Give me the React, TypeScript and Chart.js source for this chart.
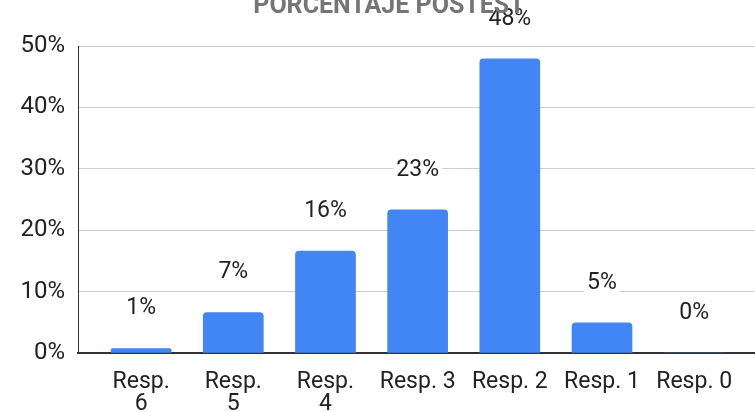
import React, { useEffect, useRef } from "react";
import { Chart, registerables } from "chart.js";

Chart.register(...registerables);

const categories: (string | string[])[] = [
  ["Resp.", "6"],
  ["Resp.", "5"],
  ["Resp.", "4"],
  "Resp. 3",
  "Resp. 2",
  "Resp. 1",
  "Resp. 0",
];
const values = [0.7, 6.6, 16.6, 23.3, 47.9, 4.9, 0];
const valueLabels = ["1%", "7%", "16%", "23%", "48%", "5%", "0%"];
const yTicks = [0, 10, 20, 30, 40, 50];
const chartTitle = "PORCENTAJE POSTEST";

const FONT = "Roboto";

const labelPlugin = {
  id: "valueLabels",
  afterDatasetsDraw(chart: any) {
    const ctx = chart.ctx;
    const meta = chart.getDatasetMeta(0);
    ctx.save();
    ctx.font = `23px ${FONT}`;
    ctx.textAlign = "center";
    ctx.textBaseline = "middle";
    meta.data.forEach((el: any, i: number) => {
      const t = valueLabels[i];
      const w = ctx.measureText(t).width;
      const y = el.y - 40;
      ctx.fillStyle = "#ffffff";
      ctx.fillRect(el.x - w / 2 - 3, y - 11, w + 6, 22);
      ctx.fillStyle = "#222222";
      ctx.fillText(t, el.x, y);
    });
    ctx.restore();
  },
};

const titlePlugin = {
  id: "topTitle",
  afterDraw(chart: any) {
    const ctx = chart.ctx;
    ctx.save();
    ctx.font = `bold 25px ${FONT}`;
    ctx.fillStyle = "#757575";
    ctx.textAlign = "center";
    ctx.textBaseline = "alphabetic";
    ctx.fillText(chartTitle, 389, 13);
    ctx.restore();
  },
};

export default function App() {
  const ref = useRef<HTMLCanvasElement | null>(null);
  useEffect(() => {
    if (!ref.current) return;
    const chart = new Chart(ref.current, {
      type: "bar",
      data: {
        datasets: [
          {
            data: values.map((v, i) => ({ x: i, y: v })),
            backgroundColor: "#4285F4",
            borderRadius: 4,
            barThickness: 60,
          },
        ],
      },
      options: {
        responsive: false,
        animation: false,
        layout: { padding: { top: 46, left: 0, right: 0, bottom: 0 } },
        plugins: {
          legend: { display: false },
          tooltip: { enabled: false },
          title: { display: false },
        },
        scales: {
          x: {
            type: "linear",
            offset: false,
            min: -0.685,
            max: 6.66,
            afterBuildTicks(scale: any) {
              scale.ticks = categories.map((_, i) => ({ value: i }));
            },
            afterFit(scale: any) {
              scale.height = 59;
            },
            grid: { display: false, offset: false },
            border: { display: true, color: "#333333", width: 2 },
            ticks: {
              autoSkip: false,
              maxRotation: 0,
              padding: 10,
              color: "#222222",
              font: { family: FONT, size: 23, lineHeight: 0.95 },
              callback: (v: any) => categories[Math.round(Number(v))] as any,
            },
          },
          y: {
            min: 0,
            max: 50,
            afterBuildTicks(scale: any) {
              scale.ticks = yTicks.map((v) => ({ value: v }));
            },
            afterFit(scale: any) {
              scale.width = 78;
            },
            grid: {
              drawTicks: false,
              color: (c: any) => (c.tick && c.tick.value === 0 ? "rgba(0,0,0,0)" : "#cccccc"),
              lineWidth: 1,
            },
            border: { display: true, color: "#333333", width: 1 },
            ticks: {
              padding: 13,
              color: "#222222",
              font: { family: FONT, size: 24 },
              callback: (v: any) => `${v}%`,
            },
          },
        },
      },
      plugins: [labelPlugin, titlePlugin],
    });
    return () => chart.destroy();
  }, []);
  return (
    <div style={{ position: "fixed", left: 0, top: 0, width: 755, height: 412, background: "#fff" }}>
      <canvas ref={ref} width={755} height={412} />
    </div>
  );
}
